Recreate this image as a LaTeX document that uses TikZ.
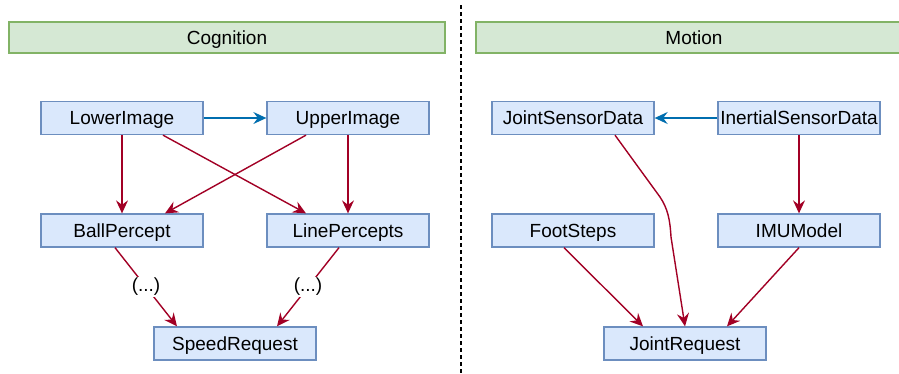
\documentclass[tikz,border=0pt]{standalone}
\usepackage{fontspec}
\setmainfont{Liberation Sans}
\usetikzlibrary{arrows.meta}
\definecolor{boxfill}{HTML}{DAE8FC}
\definecolor{boxline}{HTML}{6C8EBF}
\definecolor{barfill}{HTML}{D5E8D4}
\definecolor{barline}{HTML}{82B366}
\definecolor{flowred}{HTML}{A20025}
\definecolor{flowblue}{HTML}{006EAF}
\tikzset{
  labeltext/.style={font=\fontsize{19}{21}\selectfont, text height=13.6pt, text depth=0pt},
  repbox/.style={labeltext, draw=boxline, fill=boxfill, line width=1.3pt, minimum width=162pt,
    minimum height=33pt, inner sep=0pt},
  groupbar/.style={labeltext, draw=barline, fill=barfill, line width=1.3pt, minimum width=436pt,
    minimum height=31pt, inner sep=0pt},
  dep/.style={draw=flowred, line width=1.4pt, -{Stealth[length=13pt,width=12pt,inset=4.5pt]}},
  feed/.style={draw=flowblue, line width=1.4pt, -{Stealth[length=13pt,width=12pt,inset=4.5pt]}},
  gap/.style={fill=white, inner sep=1pt, font=\fontsize{19}{21}\selectfont}
}
\begin{document}
\begin{tikzpicture}[x=1pt, y=-1pt]
\useasboundingbox (0,0) rectangle (899,373);
\fill[white] (0,0) rectangle (899,373);

% divider between the two threads
\coordinate (divtop) at (461,5);
\coordinate (divbot) at (461,373);
\draw[line width=1.2pt, dash pattern=on 4pt off 3pt] (divtop) -- (divbot);

% thread headers
\node[groupbar] (cog) at (227,37.5) {Cognition};
\node[groupbar] (mot) at (694,37.5) {Motion};

% Cognition representations
\node[repbox] (low)   at (122,118)   {LowerImage};
\node[repbox] (up)    at (348,118)   {UpperImage};
\node[repbox] (ball)  at (122,230.5) {BallPercept};
\node[repbox] (lines) at (348,230.5) {LinePercepts};
\node[repbox] (speed) at (235,343.5) {SpeedRequest};

% Motion representations
\node[repbox] (jsd)   at (573,118)   {JointSensorData};
\node[repbox] (isd)   at (799,118)   {InertialSensorData};
\node[repbox] (foot)  at (573,230.5) {FootSteps};
\node[repbox] (imu)   at (799,230.5) {IMUModel};
\node[repbox] (jreq)  at (685,343.5) {JointRequest};

% Cognition dependencies
\draw[feed] (low.east) -- (up.west);
\draw[dep] (low.south) -- (ball.north);
\draw[dep] ([xshift=41pt]low.south) -- ([xshift=-42pt]lines.north);
\draw[dep] ([xshift=-42pt]up.south) -- ([xshift=43pt]ball.north);
\draw[dep] (up.south) -- (lines.north);
\draw[dep] ([xshift=-7pt]ball.south) -- node[gap] {(...)} ([xshift=-58pt]speed.north);
\draw[dep] ([xshift=-9pt]lines.south) -- node[gap] {(...)} ([xshift=42pt]speed.north);

% Motion dependencies
\draw[feed] (isd.west) -- (jsd.east);
\draw[dep] (isd.south) -- (imu.north);
\draw[dep] ([xshift=42pt]jsd.south) -- (660,197)
  .. controls (668,209) and (670,220) .. (671,237) -- (jreq.north);
\draw[dep] ([xshift=-9pt]foot.south) -- ([xshift=-42pt]jreq.north);
\draw[dep] (imu.south) -- ([xshift=42pt]jreq.north);
\end{tikzpicture}
\end{document}
